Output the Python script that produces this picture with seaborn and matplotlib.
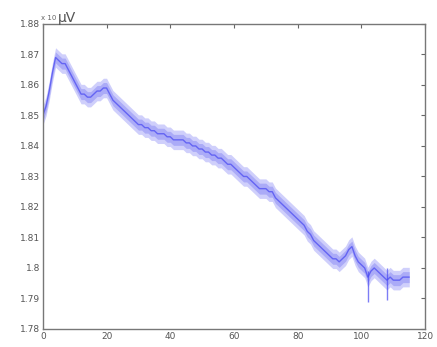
import matplotlib
matplotlib.use("Agg")
import matplotlib.pyplot as plt
import seaborn as sns
import pandas as pd
import numpy as np

# values (1 unit steps)
x_vals = list(range(0, 116))
y_vals = [
    1.850, 1.853, 1.858, 1.864, 1.869, 1.868, 1.867, 1.867, 1.865, 1.863,
    1.861, 1.859, 1.857, 1.857, 1.856, 1.856, 1.857, 1.858, 1.858, 1.859,
    1.859, 1.857, 1.855, 1.854, 1.853, 1.852, 1.851, 1.850, 1.849, 1.848,
    1.847, 1.847, 1.846, 1.846, 1.845, 1.845, 1.844, 1.844, 1.844, 1.843,
    1.843, 1.842, 1.842, 1.842, 1.842, 1.841, 1.841, 1.840, 1.840, 1.839,
    1.839, 1.838, 1.838, 1.837, 1.837, 1.836, 1.836, 1.835, 1.834, 1.834,
    1.833, 1.832, 1.831, 1.830, 1.830, 1.829, 1.828, 1.827, 1.826, 1.826,
    1.826, 1.825, 1.825, 1.823, 1.822, 1.821, 1.820, 1.819, 1.818, 1.817,
    1.816, 1.815, 1.814, 1.812, 1.811, 1.809, 1.808, 1.807, 1.806, 1.805,
    1.804, 1.803, 1.803, 1.802, 1.803, 1.804, 1.806, 1.807, 1.804, 1.802,
    1.801, 1.800, 1.797, 1.799, 1.800, 1.799, 1.798, 1.797, 1.796, 1.797,
    1.796, 1.796, 1.796, 1.797, 1.797, 1.797,
]
# short downward spikes near the end
spike_x = [102, 108]
spike_lo = [1.789, 1.7895]
spike_hi = [1.799, 1.800]

x_ticks = [0, 20, 40, 60, 80, 100, 120]
y_ticks = [1.78, 1.79, 1.80, 1.81, 1.82, 1.83, 1.84, 1.85, 1.86, 1.87, 1.88]
y_labels = ["1.78", "1.79", "1.8", "1.81", "1.82", "1.83", "1.84", "1.85", "1.86", "1.87", "1.88"]

df = pd.DataFrame({"t": x_vals, "v": y_vals})

sns.set_style("white")
plt.rcParams["font.family"] = ["DejaVu Sans"]

fig = plt.figure(figsize=(4.37, 3.47), dpi=100)
ax = fig.add_axes([0.098, 0.052, 0.875, 0.879])

blue = "#4646f2"
v = df["v"].to_numpy()
ax.fill_between(df["t"], v - 0.0032, v + 0.0032, color="#a8a8f8", alpha=0.55, lw=0)
ax.fill_between(df["t"], v - 0.0018, v + 0.0018, color="#8080f4", alpha=0.45, lw=0)
sns.lineplot(data=df, x="t", y="v", ax=ax, color=blue, lw=1.0, alpha=0.7)
ax.vlines(spike_x, spike_lo, spike_hi, color=blue, lw=1.0, alpha=0.7)

ax.set_xlim(0, 120)
ax.set_ylim(1.78, 1.88)
ax.set_xticks(x_ticks)
ax.set_yticks(y_ticks)
ax.set_yticklabels(y_labels)
ax.set_xlabel("")
ax.set_ylabel("")
ax.tick_params(direction="in", length=3, width=0.8, labelsize=6.5,
               colors="#666666", labelcolor="#555555",
               top=True, right=True, pad=2)
for s in ax.spines.values():
    s.set_color("#777777")
    s.set_linewidth(1.0)

ax.text(-0.005, 1.012, "x 10", transform=ax.transAxes, fontsize=5, color="#666666")
ax.text(0.04, 1.008, "μV", transform=ax.transAxes, fontsize=10, color="#555555")

fig.savefig("out.png", dpi=100)
